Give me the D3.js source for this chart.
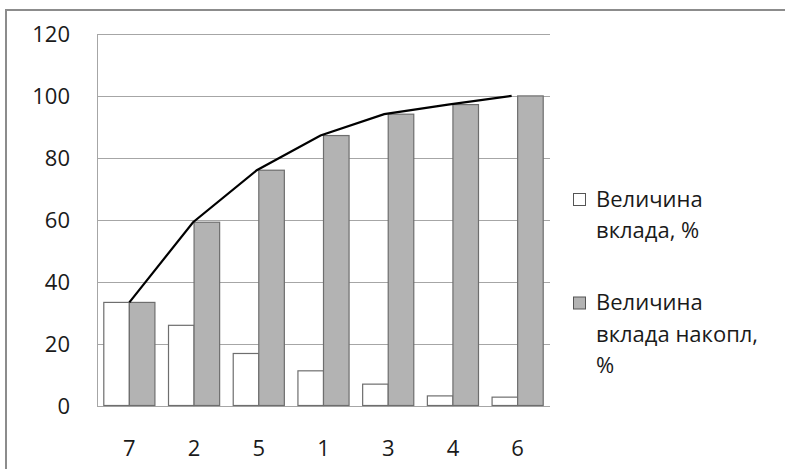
<!DOCTYPE html>
<html><head><meta charset="utf-8">
<script src="https://cdn.jsdelivr.net/npm/d3@7"></script>
<style>body{margin:0;background:#fff}svg{display:block}text{font-family:"Open Sans",Lato,sans-serif;fill:#1a1a1a}</style>
</head><body>
<svg id="c" width="785" height="469"></svg>
<script>
const categories = ["7","2","5","1","3","4","6"];
const contribution = [33.3, 25.9, 16.8, 11.2, 6.9, 3.1, 2.7];
const cumulative = [33.3, 59.2, 76.0, 87.2, 94.1, 97.2, 100];
const yTicks = [0,20,40,60,80,100,120];
const seriesNames = [["Величина","вклада, %"],["Величина","вклада накопл,","%"]];

const svg = d3.select("#c");
// outer frame
svg.append("rect").attr("x",6).attr("y",10).attr("width",790).attr("height",470)
  .attr("fill","#fff").attr("stroke","#8c8c8c").attr("stroke-width",2);

const L=97, R=550, T=34, B=405.5;
const FS = "22px";
const x = d3.scaleBand().domain(categories).range([L,R]).paddingInner(0.21).paddingOuter(0.105);
const y = d3.scaleLinear().domain([0,120]).range([B,T]);
const bw = x.bandwidth()/2;

// gridlines
svg.append("g").selectAll("line").data(yTicks).join("line")
  .attr("x1",L).attr("x2",R).attr("y1",d=>Math.round(y(d))+0.5).attr("y2",d=>Math.round(y(d))+0.5)
  .attr("stroke","#a6a6a6").attr("stroke-width",1);
// y axis line
svg.append("line").attr("x1",L+0.5).attr("x2",L+0.5).attr("y1",T).attr("y2",B+0.5).attr("stroke","#a6a6a6");

const yAxis = d3.axisLeft(y).tickValues(yTicks).tickSize(0).tickPadding(27);
const gy = svg.append("g").attr("transform",`translate(${L},0)`).call(yAxis);
gy.select(".domain").remove();
gy.selectAll("text").style("font-size",FS).attr("dy","0.36em");

const xAxis = d3.axisBottom(x).tickSize(0).tickPadding(35);
const gx = svg.append("g").attr("transform",`translate(0,${B})`).call(xAxis);
gx.select(".domain").remove();
gx.selectAll("text").style("font-size",FS);
svg.selectAll(".tick text").attr("fill","#1a1a1a");
svg.selectAll("g[font-family]").attr("font-family",null);

// bars
svg.append("g").selectAll("rect").data(categories).join("rect")
  .attr("x",d=>x(d)).attr("width",bw)
  .attr("y",(d,i)=>y(contribution[i])).attr("height",(d,i)=>B-y(contribution[i]))
  .attr("fill","#ffffff").attr("stroke","#6e6e6e").attr("stroke-width",1.2);
svg.append("g").selectAll("rect").data(categories).join("rect")
  .attr("x",d=>x(d)+bw).attr("width",bw)
  .attr("y",(d,i)=>y(cumulative[i])).attr("height",(d,i)=>B-y(cumulative[i]))
  .attr("fill","#b3b3b3").attr("stroke","#6e6e6e").attr("stroke-width",1.2);

// line (secondary category axis, slightly narrower spacing)
const xl = d3.scalePoint().domain(categories).range([x(categories[0])+bw, x(categories[6])+bw-6]);
svg.append("path").datum(cumulative)
  .attr("d", d3.line().x((d,i)=>xl(categories[i])).y(d=>y(d)))
  .attr("fill","none").attr("stroke","#000").attr("stroke-width",2.2);

// legend
const lg = svg.append("g");
const legendFill = ["#ffffff","#b3b3b3"];
const legendBase = [206.5, 310];
seriesNames.forEach((lines,k)=>{
  lg.append("rect").attr("x",573.5).attr("y",legendBase[k]-13).attr("width",12).attr("height",12)
    .attr("fill",legendFill[k]).attr("stroke","#555").attr("stroke-width",1);
  lines.forEach((t,j)=>{
    lg.append("text").attr("x",596).attr("y",legendBase[k]+j*31.5)
      .style("font-size",FS).text(t);
  });
});
</script>
</body></html>
